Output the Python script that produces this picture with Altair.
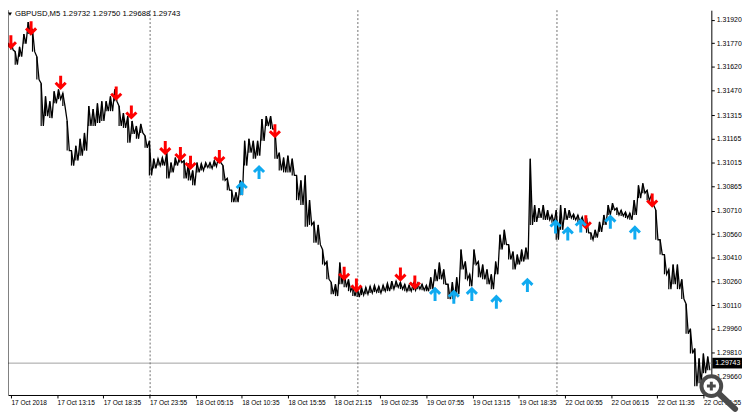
import altair as alt
import pandas as pd

# ---- data (GBPUSD M5) ----
bar_step = 6  # bars between samples (5-minute bars)
high = [1.31792, 1.31717, 1.31748, 1.31829, 1.31905, 1.31854, 1.31685, 1.31516, 1.31434, 1.31403,
        1.31466, 1.31478, 1.31453, 1.31278, 1.31090, 1.31121, 1.31165, 1.31202, 1.31372, 1.31353,
        1.31390, 1.31403, 1.31403, 1.31434, 1.31478, 1.31372, 1.31328, 1.31309, 1.31278, 1.31246,
        1.31259, 1.31184, 1.31152, 1.31039, 1.31039, 1.31046, 1.31077, 1.31014, 1.31046, 1.31058,
        1.31027, 1.31008, 1.30964, 1.31014, 1.31008, 1.31014, 1.31014, 1.31027, 1.31052, 1.30995,
        1.30914, 1.30839, 1.30826, 1.30901, 1.31152, 1.31165, 1.31152, 1.31152, 1.31290, 1.31309,
        1.31309, 1.31227, 1.31077, 1.31046, 1.31058, 1.31039, 1.30933, 1.30901, 1.30933, 1.30776,
        1.30638, 1.30619, 1.30463, 1.30387, 1.30256, 1.30243, 1.30381, 1.30325, 1.30274, 1.30230,
        1.30224, 1.30224, 1.30224, 1.30230, 1.30237, 1.30230, 1.30237, 1.30249, 1.30262, 1.30262,
        1.30256, 1.30243, 1.30237, 1.30249, 1.30249, 1.30243, 1.30237, 1.30287, 1.30337, 1.30381,
        1.30337, 1.30243, 1.30256, 1.30287, 1.30463, 1.30387, 1.30306, 1.30463, 1.30387, 1.30368,
        1.30337, 1.30306, 1.30387, 1.30557, 1.30588, 1.30494, 1.30450, 1.30431, 1.30463, 1.30475,
        1.31039, 1.30745, 1.30726, 1.30745, 1.30713, 1.30682, 1.30713, 1.30745, 1.30726, 1.30713,
        1.30688, 1.30682, 1.30669, 1.30663, 1.30569, 1.30588, 1.30638, 1.30682, 1.30745, 1.30757,
        1.30726, 1.30713, 1.30701, 1.30694, 1.30776, 1.30870, 1.30883, 1.30839, 1.30807, 1.30713,
        1.30525, 1.30431, 1.30337, 1.30368, 1.30368, 1.30274, 1.30118, 1.29961, 1.29836, 1.29773,
        1.29804, 1.29785]
low = [1.31729, 1.31635, 1.31685, 1.31767, 1.31829, 1.31717, 1.31541, 1.31246, 1.31309, 1.31296,
       1.31390, 1.31416, 1.31372, 1.31090, 1.30995, 1.31027, 1.31058, 1.31090, 1.31246, 1.31246,
       1.31265, 1.31278, 1.31340, 1.31340, 1.31403, 1.31246, 1.31234, 1.31140, 1.31196, 1.31165,
       1.31202, 1.31108, 1.30933, 1.30977, 1.30995, 1.30995, 1.30914, 1.30952, 1.30995, 1.31014,
       1.30914, 1.30901, 1.30870, 1.30952, 1.30964, 1.30983, 1.30977, 1.30989, 1.31014, 1.30901,
       1.30839, 1.30763, 1.30763, 1.30807, 1.30995, 1.31077, 1.31039, 1.31058, 1.31152, 1.31246,
       1.31227, 1.31039, 1.30964, 1.30952, 1.30952, 1.30933, 1.30776, 1.30745, 1.30607, 1.30619,
       1.30506, 1.30494, 1.30368, 1.30274, 1.30180, 1.30168, 1.30243, 1.30224, 1.30199, 1.30168,
       1.30162, 1.30174, 1.30180, 1.30187, 1.30193, 1.30187, 1.30199, 1.30199, 1.30212, 1.30224,
       1.30212, 1.30199, 1.30199, 1.30205, 1.30212, 1.30205, 1.30199, 1.30212, 1.30262, 1.30274,
       1.30243, 1.30149, 1.30149, 1.30180, 1.30337, 1.30274, 1.30230, 1.30368, 1.30287, 1.30274,
       1.30243, 1.30212, 1.30306, 1.30463, 1.30494, 1.30400, 1.30337, 1.30368, 1.30387, 1.30400,
       1.30619, 1.30638, 1.30663, 1.30651, 1.30651, 1.30632, 1.30525, 1.30588, 1.30651, 1.30663,
       1.30651, 1.30638, 1.30619, 1.30569, 1.30525, 1.30538, 1.30575, 1.30619, 1.30682, 1.30713,
       1.30682, 1.30676, 1.30663, 1.30651, 1.30682, 1.30789, 1.30820, 1.30776, 1.30745, 1.30525,
       1.30431, 1.30306, 1.30212, 1.30243, 1.30212, 1.30149, 1.29930, 1.29804, 1.29597, 1.29616,
       1.29679, 1.29698]
bars = [i * bar_step for i in range(len(high))]

sell_bar = [0, 28, 69, 146, 167, 214, 235, 249, 289, 366, 462, 479, 540, 560, 797, 889]
sell_price = [1.31779, 1.31867, 1.31522, 1.31453, 1.31334, 1.31108, 1.31071, 1.31014,
              1.31052, 1.31215, 1.30312, 1.30237, 1.30306, 1.30256, 1.30638, 1.30776]
buy_bar = [320, 344, 588, 614, 639, 673, 716, 755, 772, 790, 831, 865]
buy_price = [1.30851, 1.30952, 1.30180, 1.30162, 1.30180, 1.30130, 1.30237,
             1.30607, 1.30563, 1.30613, 1.30638, 1.30569]

tick_bars = [0, 64, 128, 192, 256, 320, 384, 448, 512, 576, 640, 704, 768, 832, 896, 960]
tick_labels = ["17 Oct 2018", "17 Oct 13:15", "17 Oct 18:35", "17 Oct 23:55", "18 Oct 05:15",
               "18 Oct 10:35", "18 Oct 15:55", "18 Oct 21:15", "19 Oct 02:35", "19 Oct 07:55",
               "19 Oct 13:15", "19 Oct 18:35", "22 Oct 00:55", "22 Oct 06:15", "22 Oct 11:35",
               "22 Oct 16:55"]
price_ticks = [1.29660, 1.29810, 1.29960, 1.30110, 1.30260, 1.30410, 1.30560, 1.30710,
               1.30865, 1.31015, 1.31165, 1.31315, 1.31470, 1.31620, 1.31770, 1.31920]
separator_bars = [193, 481, 757]
last_price = 1.29743
header = "GBPUSD,M5  1.29732 1.29750 1.29688 1.29743"

# ---- layout ----
W, H = 711, 389
FONT = "Liberation Sans"
x_dom = [-4, 971]
y_dom = [1.29541, 1.31980]

df = pd.DataFrame({"bar": bars, "high": high, "low": low})
sell = pd.DataFrame({"bar": sell_bar, "price": sell_price})
buy = pd.DataFrame({"bar": buy_bar, "price": buy_price})
seps = pd.DataFrame({"bar": separator_bars})

lbl_arr = "[" + ",".join("'" + s + "'" for s in tick_labels) + "]"
x_axis = alt.Axis(values=tick_bars, labelExpr=f"{lbl_arr}[round(datum.value/64)]",
                  title=None, grid=False, tickSize=3, tickColor="black", domainColor="black",
                  labelAlign="left", labelPadding=2, labelFontSize=6.6, labelFont=FONT,
                  labelColor="black", labelOverlap=False, labelFlush=False, labelBound=False)
y_axis = alt.Axis(values=price_ticks, format=".5f", orient="right", title=None, grid=False,
                  tickSize=3, tickColor="black", domainColor="black", labelPadding=2,
                  labelFontSize=7, labelFont=FONT, labelColor="black", labelOverlap=False,
                  labelBound=False, labelFlush=False)
xs = alt.Scale(domain=x_dom, nice=False, zero=False)
ys = alt.Scale(domain=y_dom, nice=False, zero=False)

X = alt.X("bar:Q", scale=xs, axis=x_axis)

price_line = alt.Chart(pd.DataFrame({"p": [last_price]})).mark_rule(
    color="#a0a0a0", strokeWidth=1).encode(y=alt.Y("p:Q", scale=ys, axis=y_axis))

sep_rules = alt.Chart(seps).mark_rule(color="#6e6e6e", strokeDash=[2, 2], strokeWidth=1).encode(
    x=X)

# each sampled bar drawn high -> low, joined into one jagged trace (as dense MT4 bars look)
trace = alt.Chart(df).transform_fold(
    ["high", "low"], as_=["kind", "price"]
).transform_calculate(
    t="datum.bar + (datum.kind == 'high' ? 0 : 3)"
).mark_line(color="black", strokeWidth=1.3).encode(
    x=alt.X("t:Q", scale=xs, axis=x_axis),
    y=alt.Y("price:Q", scale=ys, axis=y_axis),
    order="t:Q",
)
hl = alt.Chart(df).mark_rule(color="black", strokeWidth=1.2).encode(
    x=X, y=alt.Y("high:Q", scale=ys, axis=y_axis), y2="low:Q")

down_shape = "M0,-1L0,0.8M-0.75,0.05L0,0.8L0.75,0.05"
up_shape = "M0,1L0,-0.8M-0.75,-0.05L0,-0.8L0.75,-0.05"
sell_pts = alt.Chart(sell).mark_point(shape=down_shape, filled=False, size=185, strokeWidth=3,
                                      color="#ff0000", opacity=1).encode(
    x=X, y=alt.Y("price:Q", scale=ys, axis=y_axis))
buy_pts = alt.Chart(buy).mark_point(shape=up_shape, filled=False, size=185, strokeWidth=3,
                                    color="#10aaf0", opacity=1).encode(
    x=X, y=alt.Y("price:Q", scale=ys, axis=y_axis))

left_border = alt.Chart(pd.DataFrame({"a": [0]})).mark_rule(color="black").encode(
    x=alt.value(0), y=alt.value(0), y2=alt.value(H))

head_tri = alt.Chart(pd.DataFrame({"a": [0]})).mark_point(
    shape="triangle-down", filled=True, size=16, color="black", opacity=1).encode(
    x=alt.value(2), y=alt.value(4))
head_txt = alt.Chart(pd.DataFrame({"t": [header]})).mark_text(
    align="left", baseline="middle", fontSize=7.8, font=FONT, color="black").encode(
    x=alt.value(7), y=alt.value(4), text="t:N")

box = alt.Chart(pd.DataFrame({"p": [last_price]})).mark_point(
    shape="M-1,-0.36L1,-0.36L1,0.36L-1,0.36Z", filled=True, size=900, color="black",
    opacity=1).encode(x=alt.value(W + 16), y=alt.Y("p:Q", scale=ys, axis=y_axis))
box_txt = alt.Chart(pd.DataFrame({"p": [last_price]})).mark_text(
    align="left", baseline="middle", fontSize=7, font=FONT, color="white").encode(
    x=alt.value(W + 4), y=alt.Y("p:Q", scale=ys, axis=y_axis),
    text=alt.Text("p:Q", format=".5f"))

# zoom (magnifier) overlay in the bottom-right corner of the screenshot
one = pd.DataFrame({"a": [0]})
mag_handle = alt.Chart(one).mark_rule(color="#4a4a4a", strokeWidth=6, strokeCap="round").encode(
    x=alt.value(W + 8), y=alt.value(H - 1), x2=alt.value(W + 24), y2=alt.value(H + 14))
mag_ring = alt.Chart(one).mark_point(shape="circle", filled=True, fill="white", stroke="#4a4a4a",
                                     strokeWidth=4, size=400, opacity=1).encode(
    x=alt.value(W), y=alt.value(H - 9))
mag_plus = alt.Chart(one).mark_point(shape="M-1,0L1,0M0,-1L0,1", filled=False, color="#4a4a4a",
                                     strokeWidth=3, size=80, opacity=1).encode(
    x=alt.value(W), y=alt.value(H - 9))

chart = alt.layer(
    price_line, sep_rules, hl, trace, sell_pts, buy_pts, left_border, head_tri, head_txt,
    box, box_txt, mag_handle, mag_ring, mag_plus
).properties(
    width=W, height=H,
    autosize=alt.AutoSizeParams(type="none"),
    padding={"left": 0, "top": 0, "right": 31, "bottom": 18},
    background="white",
).configure_view(stroke=None)

chart.save("out.html", embed_options={"renderer": "svg", "actions": False})
